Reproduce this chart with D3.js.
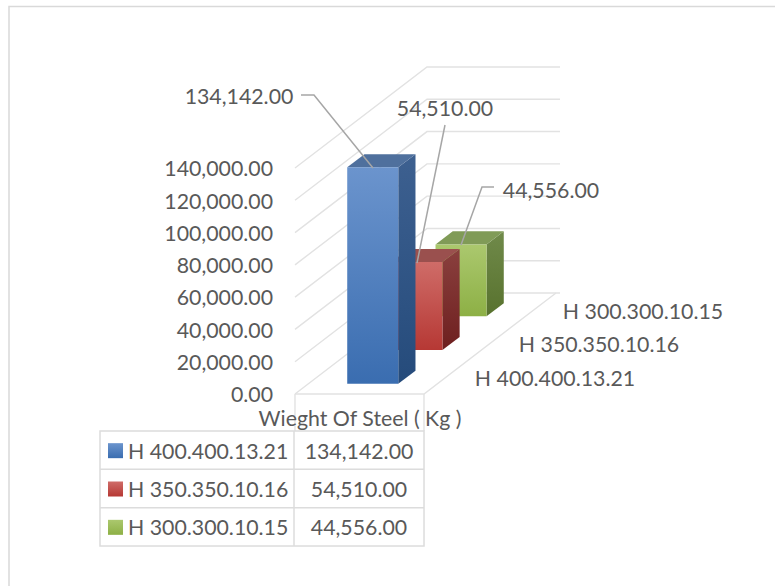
<!DOCTYPE html>
<html>
<head>
<meta charset="utf-8">
<script src="https://cdn.jsdelivr.net/npm/d3@7"></script>
<style>
  body { margin: 0; background: #fff; }
  text { font-family: Lato, "Open Sans", sans-serif; fill: #595959; }
</style>
</head>
<body>
<div id="chart"></div>
<script>
const categories = ['H 400.400.13.21', 'H 350.350.10.16', 'H 300.300.10.15'];
const values = [134142, 54510, 44556];
const seriesName = 'Wieght Of Steel ( Kg )';
const yTicks = [0, 20000, 40000, 60000, 80000, 100000, 120000, 140000];
const frontColors = [['#6b94cd', '#3a6db0'], ['#cf6c68', '#b63834'], ['#abc86e', '#8db045']];
const sideColors = [['#3d6090', '#254b7b'], ['#8a403e', '#6e1f1f'], ['#708a4a', '#58722e']];
const topColors = ['#4f709d', '#9a504e', '#809b57'];

const width = 784;
const height = 586;
const fontSize = 21.3;

const fmt = d3.format(',.2f');

const svg = d3.select('#chart')
    .append('svg')
    .attr('width', width)
    .attr('height', height);

// y runs up the front edge, x along the floor front, depth shears both
const yScale = d3.scaleLinear().domain([0, 140000]).range([394, 168]);
const xScale = d3.scaleBand().domain([seriesName]).range([295, 424]).padding(0.433);
const zScale = d3.scaleBand().domain(categories).range([0, 1])
    .paddingInner(0.61).paddingOuter(0.3);
const zx = d3.scaleLinear().domain([0, 1]).range([0, 132]);
const zy = d3.scaleLinear().domain([0, 1]).range([0, -101]);

const pt = (x, y, z) => [x + zx(z), y + zy(z)];
const poly = pts => 'M' + pts.map(p => p.join(',')).join('L') + 'Z';

// frame of the picture
svg.append('path')
    .attr('d', 'M9,586V6.5H775')
    .attr('fill', 'none')
    .attr('stroke', '#d9d9d9')
    .attr('stroke-width', 1.5);

const defs = svg.append('defs');
function gradient(id, c) {
    const g = defs.append('linearGradient').attr('id', id)
        .attr('x1', 0).attr('y1', 0).attr('x2', 0).attr('y2', 1);
    g.append('stop').attr('offset', 0).attr('stop-color', c[0]);
    g.append('stop').attr('offset', 1).attr('stop-color', c[1]);
}
categories.forEach((c, i) => {
    gradient('front' + i, frontColors[i]);
    gradient('side' + i, sideColors[i]);
});

// walls and floor
const grid = svg.append('g')
    .attr('fill', 'none')
    .attr('stroke', '#e2e2e2')
    .attr('stroke-width', 1.4);
const x0 = xScale.range()[0];
const x1 = xScale.range()[1];
yTicks.forEach(t => {
    const y = yScale(t);
    grid.append('path').attr('d', d3.line()([pt(x0, y, 0), pt(x0, y, 1), pt(x1 + 4, y, 1)]));
});
const y0 = yScale(0);
grid.append('path').attr('d', d3.line()([[x0, y0], [x1, y0], pt(x1, y0, 1)]));
grid.append('path').attr('d', d3.line()([[x0, y0], [x0, 431]]));
grid.append('path').attr('d', d3.line()([[x1, y0], [x1, 431]]));

// bars, back to front
d3.range(categories.length - 1, -1, -1).forEach(i => {
    const a = xScale(seriesName);
    const b = a + xScale.bandwidth();
    const z0 = zScale(categories[i]);
    const z1 = z0 + zScale.bandwidth();
    const top = yScale(values[i]);
    const g = svg.append('g');
    g.append('path')
        .attr('d', poly([pt(b, y0, z0), pt(b, y0, z1), pt(b, top, z1), pt(b, top, z0)]))
        .attr('fill', `url(#side${i})`);
    g.append('path')
        .attr('d', poly([pt(a, top, z0), pt(b, top, z0), pt(b, top, z1), pt(a, top, z1)]))
        .attr('fill', topColors[i]);
    g.append('path')
        .attr('d', poly([pt(a, y0, z0), pt(b, y0, z0), pt(b, top, z0), pt(a, top, z0)]))
        .attr('fill', `url(#front${i})`);
});

// value axis
const yAxis = svg.append('g')
    .attr('transform', 'translate(281,1)')
    .call(d3.axisLeft(yScale).tickValues(yTicks).tickFormat(fmt).tickSize(0).tickPadding(8));
yAxis.select('.domain').remove();
yAxis.selectAll('text').style('font-size', fontSize + 'px').style('font-family', null);

// category labels beside the floor
const catLabelX = d3.scaleOrdinal().domain(categories).range([555, 599, 643]);
const catLabelY = d3.scaleOrdinal().domain(categories).range([379, 345, 312]);
svg.append('g').selectAll('text')
    .data(categories)
    .enter()
    .append('text')
    .text(d => d)
    .attr('x', d => catLabelX(d))
    .attr('y', d => catLabelY(d))
    .attr('dy', '0.35em')
    .attr('text-anchor', 'middle')
    .style('font-size', fontSize + 'px');

svg.append('text')
    .text(seriesName)
    .attr('x', 360)
    .attr('y', 419)
    .attr('dy', '0.35em')
    .attr('text-anchor', 'middle')
    .style('font-size', fontSize + 'px');

// data labels and their leader lines
const labelX = d3.scaleOrdinal().domain(categories).range([239, 445, 551]);
const labelY = d3.scaleOrdinal().domain(categories).range([97, 109, 191]);
const leaderX = d3.scaleOrdinal().domain(categories).range([[301, 314, 373], [445, 417], [494, 482, 461]]);
const leaderY = d3.scaleOrdinal().domain(categories).range([[95, 95, 168], [125, 263], [187, 187, 245]]);
categories.forEach(c => {
    const xs = leaderX(c);
    const ys = leaderY(c);
    svg.append('path')
        .attr('d', d3.line()(xs.map((x, i) => [x, ys[i]])))
        .attr('fill', 'none')
        .attr('stroke', '#a6a6a6')
        .attr('stroke-width', 1.5);
});
svg.append('g').selectAll('text')
    .data(categories)
    .enter()
    .append('text')
    .text((d, i) => fmt(values[i]))
    .attr('x', d => labelX(d))
    .attr('y', d => labelY(d))
    .attr('dy', '0.35em')
    .attr('text-anchor', 'middle')
    .style('font-size', fontSize + 'px');

// data table
const rowScale = d3.scaleBand().domain(categories).range([431, 546]);
const table = svg.append('g')
    .attr('fill', 'none')
    .attr('stroke', '#dcdcdc')
    .attr('stroke-width', 1.5);
table.append('rect').attr('x', 100).attr('y', 431).attr('width', 324).attr('height', 115);
table.append('path').attr('d', 'M294,431V546');
categories.slice(1).forEach(c => {
    table.append('path').attr('d', `M100,${rowScale(c)}H424`);
});
const rows = svg.append('g').selectAll('g')
    .data(categories)
    .enter()
    .append('g')
    .attr('transform', d => `translate(0,${rowScale(d) + rowScale.bandwidth() / 2})`);
rows.append('rect')
    .attr('x', 108)
    .attr('y', -7)
    .attr('width', 15)
    .attr('height', 15)
    .attr('fill', (d, i) => `url(#front${i})`);
rows.append('text')
    .text(d => d)
    .attr('x', 128)
    .attr('y', 1)
    .attr('dy', '0.35em')
    .style('font-size', fontSize + 'px');
rows.append('text')
    .text((d, i) => fmt(values[i]))
    .attr('x', 359)
    .attr('y', 1)
    .attr('dy', '0.35em')
    .attr('text-anchor', 'middle')
    .style('font-size', fontSize + 'px');
</script>
</body>
</html>
